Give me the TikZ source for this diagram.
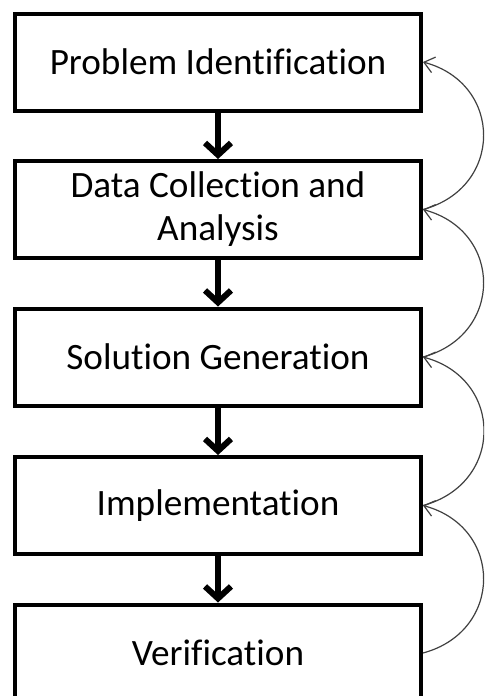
\documentclass[tikz,border=0pt]{standalone}
\usepackage{fontspec}
\setmainfont{Carlito}[Ligatures=NoCommon]
\usetikzlibrary{arrows.meta}
\begin{document}
\begin{tikzpicture}[x=0.5pt,y=0.5pt,
  stage/.style={draw,line width=2pt,minimum width=203pt,minimum height=48.5pt,
    inner sep=3pt,align=center,font=\fontsize{18.6}{21.5}\selectfont},
  flow/.style={line width=3pt,-{Straight Barb[length=6pt,width=13pt]}},
  back/.style={line width=0.6pt,draw=black!75,-{Straight Barb[length=5pt,width=8pt]},
    out=15,in=-15,looseness=1.45}]
\clip (0,0) rectangle (484,-696);
\node[stage] (ident) at (218,-62) {Problem Identification};
\node[stage] (data) at (218,-209.5) {Data Collection and\\Analysis};
\node[stage] (sol) at (218,-357) {Solution Generation};
\node[stage] (impl) at (218,-505.5) {Implementation};
\node[stage] (verif) at (218,-653) {Verification};
% steps downwards
\draw[flow] (ident) -- (data);
\draw[flow] (data) -- (sol);
\draw[flow] (sol) -- (impl);
\draw[flow] (impl) -- (verif);
% feedback to the step above
\draw[back] (data.east) to (ident.east);
\draw[back] (sol.east) to (data.east);
\draw[back] (impl.east) to (sol.east);
\draw[back] (verif.east) to (impl.east);
\end{tikzpicture}
\end{document}
